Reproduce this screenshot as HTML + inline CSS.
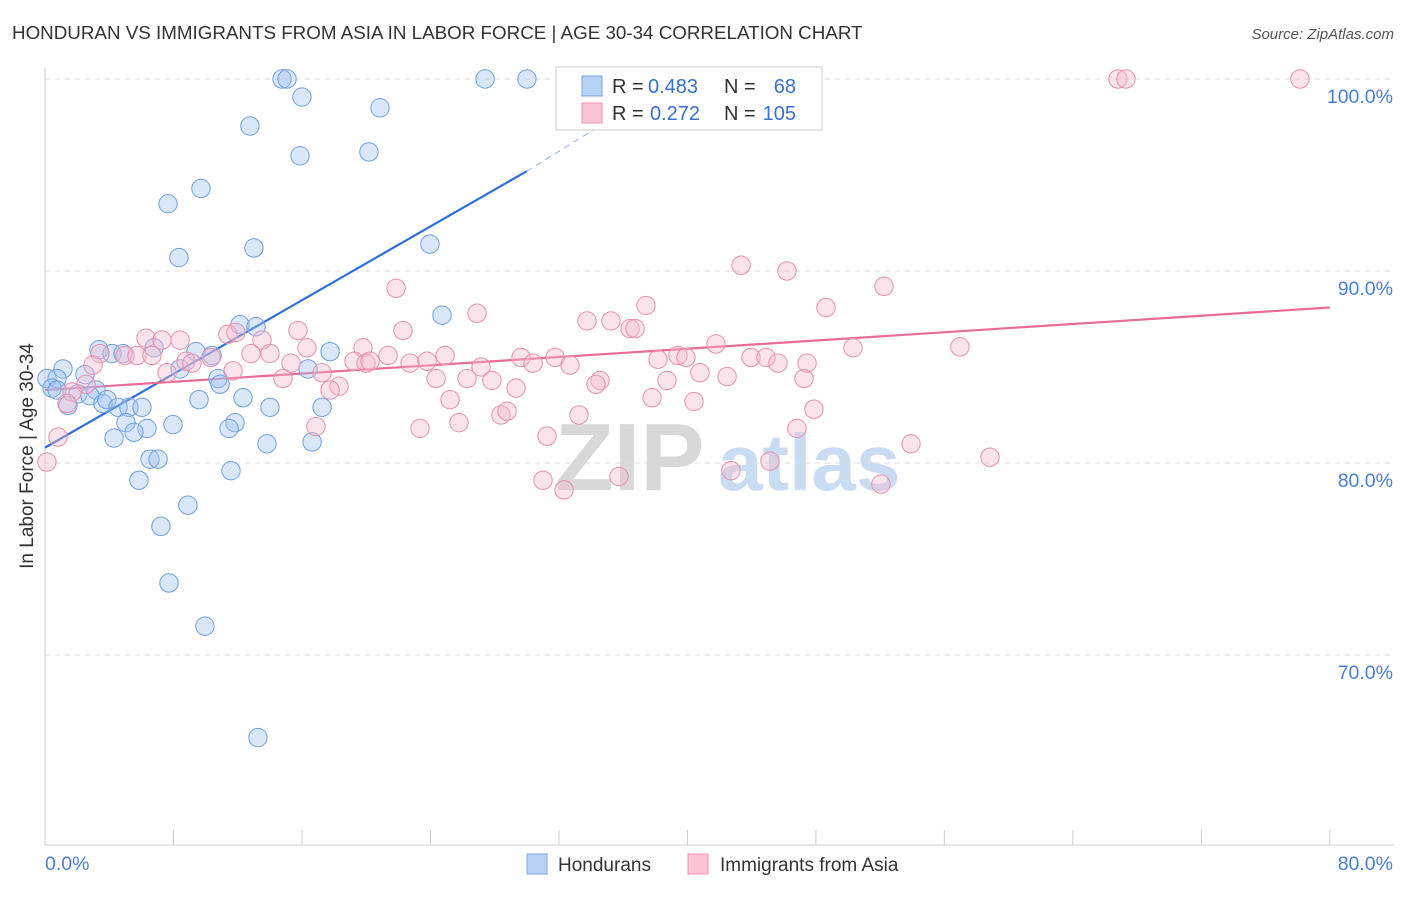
<!DOCTYPE html>
<html><head><meta charset="utf-8"><style>
body{margin:0;background:#fff;font-family:"Liberation Sans",sans-serif;}
svg text{font-family:"Liberation Sans",sans-serif;}
</style></head><body>
<svg id="chart" width="1406" height="892" xmlns="http://www.w3.org/2000/svg">
<text x="12" y="39" font-size="18.8" fill="#333">HONDURAN VS IMMIGRANTS FROM ASIA IN LABOR FORCE | AGE 30-34 CORRELATION CHART</text>
<text x="1394" y="39" font-size="15" fill="#555" font-style="italic" text-anchor="end">Source: ZipAtlas.com</text>
<g>
<text x="555" y="490" font-size="96" fill="#d8d8d8" font-family="Liberation Serif" font-weight="bold">ZIP</text>
<text x="718" y="490" font-size="80" fill="#c9dcf2" font-weight="bold">atlas</text>
</g>
<g id="grid"></g>
<g id="axes"></g>
<g id="lines"></g>
<g id="pts"></g>
<text transform="translate(33,456) rotate(-90)" font-size="19" fill="#333" text-anchor="middle">In Labor Force | Age 30-34</text>
<g>
<rect x="556" y="67" width="266" height="63" fill="#fff" stroke="#ccc"/>
<rect x="582" y="76" width="20" height="20" fill="#b7d2f5" stroke="#7aa7e6"/>
<rect x="582" y="103" width="20" height="20" fill="#f9c5d5" stroke="#eb96b2"/>
<text x="612" y="93" font-size="20" fill="#333">R = </text><text x="648" y="93" font-size="20" fill="#3a6fd0">0.483</text>
<text x="724" y="93" font-size="20" fill="#333">N = </text><text x="796" y="93" font-size="20" fill="#3a6fd0" text-anchor="end">68</text>
<text x="612" y="120" font-size="20" fill="#333">R = </text><text x="650" y="120" font-size="20" fill="#3a6fd0">0.272</text>
<text x="724" y="120" font-size="20" fill="#333">N = </text><text x="796" y="120" font-size="20" fill="#3a6fd0" text-anchor="end">105</text>
</g>
<g>
<rect x="527" y="854" width="20" height="20" fill="#b7d2f5" stroke="#7aa7e6"/>
<text x="558" y="871" font-size="19" fill="#333">Hondurans</text>
<rect x="688" y="854" width="20" height="20" fill="#f9c5d5" stroke="#eb96b2"/>
<text x="720" y="871" font-size="19" fill="#333">Immigrants from Asia</text>
</g>
</svg>
<script>
const yTicks=[70,80,90,100];
const yTickLabels=["70.0%","80.0%","90.0%","100.0%"];
const xTicks=[0,8,16,24,32,40,48,56,64,72,80];
const xEndLabels=["0.0%","80.0%"];
const hondX=[14.76,15.07,27.4,30.01,16.0,20.86,12.76,15.88,20.17,9.71,7.66,23.97,13.01,8.34,24.72,12.14,13.14,6.79,3.36,4.17,4.86,9.4,10.4,17.75,16.38,8.41,1.12,2.49,0.12,0.75,10.77,10.9,0.44,0.75,2.05,3.18,2.8,3.61,3.86,9.59,12.33,4.55,5.23,6.04,14.01,17.25,1.43,5.04,11.83,11.46,7.97,6.35,4.3,5.54,13.82,16.63,6.54,7.04,11.58,5.85,8.9,7.22,7.72,9.96,13.26];
const hondY=[100,100,100,100,99.06,98.5,97.55,96.0,96.2,94.3,93.5,91.4,91.2,90.7,87.7,87.2,87.1,86.0,85.9,85.7,85.7,85.8,85.6,85.8,84.9,84.9,84.9,84.6,84.4,84.4,84.4,84.1,83.9,83.8,83.6,83.8,83.5,83.1,83.3,83.3,83.4,82.9,82.9,82.9,82.9,82.9,83.0,82.1,82.1,81.8,82.0,81.8,81.3,81.6,81.0,81.1,80.2,80.2,79.6,79.1,77.8,76.7,73.75,71.5,65.7];
const asiaX=[66.81,67.31,78.14,43.34,46.2,21.86,52.24,37.42,26.9,48.63,33.75,35.24,36.43,36.74,22.29,15.75,6.29,7.29,8.41,11.39,11.89,13.51,41.78,50.31,56.97,16.31,19.8,3.42,4.98,5.73,6.66,12.83,14.01,21.36,24.91,29.64,31.76,39.41,39.91,43.96,44.89,10.34,8.78,9.15,19.24,19.99,20.24,22.73,23.79,27.15,30.39,32.69,38.17,45.64,47.45,2.99,7.6,17.25,15.32,11.71,14.82,24.35,26.28,27.83,34.56,38.73,40.78,42.47,47.26,18.31,29.33,34.31,17.75,2.55,1.68,1.37,25.22,37.8,40.41,47.88,28.39,28.77,33.25,25.78,23.35,16.87,31.26,46.82,53.92,58.84,45.14,31.01,32.32,35.74,42.71,52.05,0.81,0.12];
const asiaY=[100,100,100,90.3,90.0,89.1,89.2,88.2,87.8,88.1,87.4,87.4,87.0,87.0,86.9,86.9,86.5,86.4,86.4,86.7,86.8,86.4,86.2,86.0,86.05,86.0,86.0,85.7,85.6,85.6,85.6,85.7,85.7,85.6,85.6,85.5,85.5,85.6,85.5,85.5,85.5,85.5,85.3,85.2,85.3,85.2,85.3,85.2,85.3,85.0,85.2,85.1,85.4,85.2,85.2,85.1,84.7,84.7,85.2,84.8,84.4,84.4,84.4,84.3,84.3,84.3,84.7,84.5,84.4,84.0,83.9,84.1,83.8,84.1,83.7,83.1,83.3,83.4,83.2,82.8,82.5,82.7,82.5,82.1,81.8,81.9,81.4,81.8,81.0,80.3,80.1,79.1,78.6,79.3,79.6,78.9,81.35,80.05];
const hondTrend=[[0,80.8],[30.0,95.2]];
const hondTrendExt=[[30.0,95.2],[35.8,98.2]];
const asiaTrend=[[0,83.8],[80,88.1]];

const NS="http://www.w3.org/2000/svg";
const X=v=>45+v*16.06;
const Y=v=>79+(100-v)*19.2;
function mk(tag,attrs,parent){const e=document.createElementNS(NS,tag);for(const k in attrs)e.setAttribute(k,attrs[k]);document.getElementById(parent).appendChild(e);return e;}
yTicks.forEach((t,i)=>{
  const l=mk('line',{x1:45,x2:1394,y1:Y(t),y2:Y(t),stroke:'#ddd','stroke-dasharray':'5,5'},'grid');
  
  
  const tx=mk('text',{x:1393,y:Y(t)+24,'font-size':19.5,fill:'#4a7fd4','text-anchor':'end'},'grid');
  tx.textContent=yTickLabels[i];
  
  
});
const ya=mk('line',{x1:45,x2:45,y1:68,y2:845,stroke:'#ccc'},'axes');


const xa=mk('line',{x1:45,x2:1394,y1:845,y2:845,stroke:'#ccc'},'axes');


xTicks.forEach(t=>{
  const l=mk('line',{x1:X(t),x2:X(t),y1:830,y2:845,stroke:'#ccc'},'axes');
  
  
});
[[0,'start'],[80,'end']].forEach((p,i)=>{
  const tx=mk('text',{x:i?1393:45,y:870,'font-size':19.5,fill:'#4a7fd4','text-anchor':p[1]},'axes');
  tx.textContent=xEndLabels[i];
  
  
});
for(let i=0;i<hondX.length;i++){
  const c=mk('circle',{cx:X(hondX[i]),cy:Y(hondY[i]),r:9.2,fill:'rgba(160,196,240,0.4)',stroke:'#6fa0e0','stroke-width':1},'pts');
  
  
}
for(let i=0;i<asiaX.length;i++){
  const c=mk('circle',{cx:X(asiaX[i]),cy:Y(asiaY[i]),r:9.2,fill:'rgba(246,184,204,0.4)',stroke:'#e890ad','stroke-width':1},'pts');
  
  
}
const bl=mk('line',{x1:X(hondTrend[0][0]),y1:Y(hondTrend[0][1]),x2:X(hondTrend[1][0]),y2:Y(hondTrend[1][1]),stroke:'#2f6fd6','stroke-width':2.2},'lines');


const bd=mk('line',{x1:X(hondTrendExt[0][0]),y1:Y(hondTrendExt[0][1]),x2:X(hondTrendExt[1][0]),y2:Y(hondTrendExt[1][1]),stroke:'#8fb0e6','stroke-width':1,'stroke-dasharray':'6,5'},'lines');


const pl=mk('line',{x1:X(asiaTrend[0][0]),y1:Y(asiaTrend[0][1]),x2:X(asiaTrend[1][0]),y2:Y(asiaTrend[1][1]),stroke:'#e86b98','stroke-width':2.2},'lines');


</script>
</body></html>
